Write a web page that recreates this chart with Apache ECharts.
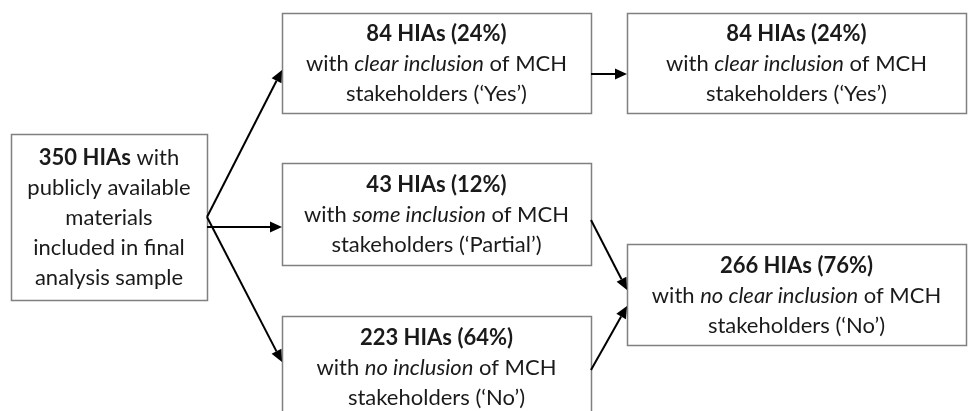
<!DOCTYPE html>
<html>
<head>
<meta charset="utf-8">
<script src="https://cdn.jsdelivr.net/npm/echarts@6/dist/echarts.min.js"></script>
<style>
    html, body { margin: 0; padding: 0; background: #fff; }
    #flowChart { width: 968px; height: 411px; }
</style>
</head>
<body>
<div id="flowChart"></div>
<script>
// node content
var nodeCounts = [350, 84, 43, 223, 84, 266];
var nodeShares = ['', '24%', '12%', '64%', '24%', '76%'];
var nodeTerms = ['', 'clear inclusion', 'some inclusion', 'no inclusion', 'clear inclusion', 'no clear inclusion'];
var nodeAnswers = ['', 'Yes', 'Partial', 'No', 'Yes', 'No'];
var sampleLines = ['with', 'publicly available', 'materials', 'included in final', 'analysis sample'];
// flow between nodes [from, to]
var links = [[0, 1], [0, 2], [0, 3], [1, 4], [2, 5], [3, 5]];

// layout (pixel space of the 968x411 canvas)
var boxLayout = [
    [11, 134, 207, 300],
    [282, 13, 591, 113],
    [282, 163, 591, 265],
    [282, 316, 591, 418],
    [627, 13, 966, 113],
    [627, 244, 966, 345]
];
var linkPorts = [
    [207, 217, 282, 70],
    [207, 227, 282, 227],
    [207, 217, 282, 362],
    [591, 74, 627, 74],
    [591, 220, 627, 290],
    [591, 370, 627, 306]
];

var FONT = 'Lato, "Open Sans", sans-serif';
var FS = 22;

var nodeText = function (i) {
    if (i === 0) {
        return '{b|' + nodeCounts[i] + ' HIAs}{n| ' + sampleLines[0] + '}\n' +
            sampleLines.slice(1).map(function (s) { return '{n|' + s + '}'; }).join('\n');
    }
    return '{b|' + nodeCounts[i] + ' HIAs (' + nodeShares[i] + ')}\n' +
        '{n|with }{i|' + nodeTerms[i] + '}{n| of MCH}\n' +
        '{n|stakeholders (\u2018' + nodeAnswers[i] + '\u2019)}';
};

var richStyle = {
    b: { fontFamily: FONT, fontSize: FS, fontWeight: 'bold', fill: '#1a1a1a', lineHeight: 30 },
    n: { fontFamily: FONT, fontSize: FS, fill: '#1a1a1a', lineHeight: 30 },
    i: { fontFamily: FONT, fontSize: FS, fontStyle: 'italic', fill: '#1a1a1a', lineHeight: 30 }
};

var boxData = boxLayout.map(function (b, i) {
    return { value: b.concat([i]) };
});
var linkData = links.map(function (l, k) {
    return { value: linkPorts[k], name: l[0] + '-' + l[1] };
});

var myChart = echarts.init(document.getElementById('flowChart'));
option = {
    animation: false,
    backgroundColor: '#fff',
    grid: { left: 0, right: 0, top: 0, bottom: 0 },
    xAxis: { type: 'value', min: 0, max: 968, show: false },
    yAxis: { type: 'value', min: 0, max: 411, inverse: true, show: false },
    series: [
        {
            type: 'custom',
            name: 'boxes',
            encode: { x: [0, 2], y: [1, 3] },
            data: boxData,
            renderItem: function (params, api) {
                var p0 = api.coord([api.value(0), api.value(1)]);
                var p1 = api.coord([api.value(2), api.value(3)]);
                var i = api.value(4);
                return {
                    type: 'group',
                    children: [
                        {
                            type: 'rect',
                            shape: { x: p0[0] + 0.5, y: p0[1] + 0.5, width: p1[0] - p0[0], height: p1[1] - p0[1] },
                            style: { fill: '#fff', stroke: '#808080', lineWidth: 1.5 }
                        },
                        {
                            type: 'text',
                            style: {
                                x: (p0[0] + p1[0]) / 2,
                                y: (p0[1] + p1[1]) / 2 + 1,
                                align: 'center',
                                verticalAlign: 'middle',
                                text: nodeText(i),
                                rich: richStyle,
                                fill: '#1a1a1a'
                            }
                        }
                    ]
                };
            }
        },
        {
            type: 'custom',
            name: 'arrows',
            encode: { x: [0, 2], y: [1, 3] },
            data: linkData,
            z: 3,
            renderItem: function (params, api) {
                var s = api.coord([api.value(0), api.value(1)]);
                var t = api.coord([api.value(2), api.value(3)]);
                var dx = t[0] - s[0], dy = t[1] - s[1];
                var len = Math.sqrt(dx * dx + dy * dy);
                var ux = dx / len, uy = dy / len;
                var headL = 12, headW = 5.5;
                var bx = t[0] - ux * headL, by = t[1] - uy * headL;
                return {
                    type: 'group',
                    children: [
                        {
                            type: 'line',
                            shape: { x1: s[0], y1: s[1], x2: bx, y2: by },
                            style: { stroke: '#000', lineWidth: 2 }
                        },
                        {
                            type: 'polygon',
                            shape: {
                                points: [
                                    [t[0], t[1]],
                                    [bx - uy * headW, by + ux * headW],
                                    [bx + uy * headW, by - ux * headW]
                                ]
                            },
                            style: { fill: '#000' }
                        }
                    ]
                };
            }
        }
    ]
};
myChart.setOption(option);
</script>
</body>
</html>
